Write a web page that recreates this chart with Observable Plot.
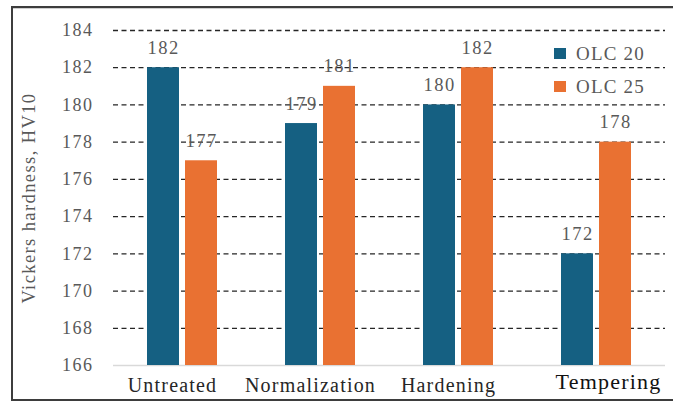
<!DOCTYPE html>
<html>
<head>
<meta charset="utf-8">
<script src="https://cdn.jsdelivr.net/npm/d3@7"></script>
<script src="https://cdn.jsdelivr.net/npm/@observablehq/plot@0.6"></script>
<style>
  html, body { margin: 0; padding: 0; background: #fff; }
  #wrap { position: relative; width: 673px; height: 401px; overflow: hidden; }
  #frame {
    position: absolute; left: 11px; top: 6px; width: 663px; height: 391px;
    border: 2px solid #3d3d3d; box-shadow: inset 0 1px 0 #cfcfcf;
  }
  #chart { position: absolute; left: 0; top: 0; }
  #chart svg text { font-family: 'Liberation Serif', serif !important; }
  .legend { position: absolute; left: 554px; font-family: 'Liberation Serif', serif;
    font-size: 19px; color: #595959; letter-spacing: 1.2px; }
  .legend .item { display: flex; align-items: center; height: 33px; }
  .legend .sw { width: 12px; height: 11px; margin-right: 10px; }
</style>
</head>
<body>
<div id="wrap">
  <div id="frame"></div>
  <div id="chart"></div>
  <div class="legend" id="legend" style="top:37px"></div>
</div>
<script>
// Heat treatment categories and the two steels
const categories = ["Untreated", "Normalization", "Hardening", "Tempering"];
const series = ["OLC 20", "OLC 25"];
const olc20 = [182, 179, 180, 172];
const olc25 = [177, 181, 182, 178];
const yTicks = [166, 168, 170, 172, 174, 176, 178, 180, 182, 184];
const yLabel = "Vickers hardness, HV10";
const yBase = 166;
const colors = ["#156082", "#E97132"];

// Long-format rows: one per bar
const rows = [];
categories.forEach((c, i) => {
  rows.push({category: c, steel: series[0], value: olc20[i]});
  rows.push({category: c, steel: series[1], value: olc25[i]});
});

const chart = Plot.plot({
  width: 673,
  height: 401,
  marginLeft: 112,
  marginRight: 8,
  marginTop: 30,
  marginBottom: 36,
  style: {background: "transparent", overflow: "visible"},
  facet: {data: rows, x: "category"},
  fx: {domain: categories, padding: 0, axis: "bottom", tickSize: 0, tickPadding: 12, label: null},
  x: {domain: series, axis: null, paddingInner: 0.17, paddingOuter: 0.9},
  y: {domain: [yTicks[0], yTicks[yTicks.length - 1]], ticks: yTicks, tickSize: 0, tickPadding: 20,
      label: yLabel, labelAnchor: "center", labelOffset: 92},
  color: {domain: series, range: colors},
  marks: [
    Plot.ruleY(yTicks.slice(1), {stroke: "#262626", strokeWidth: 1.3, strokeDasharray: "5,3.5"}),
    Plot.ruleY([yBase], {stroke: "#d9d9d9", strokeWidth: 1.5}),
    Plot.barY(rows, {x: "steel", y1: yBase, y2: "value", fill: "steel"}),
    Plot.text(rows, {x: "steel", y: "value", text: d => String(d.value), lineAnchor: "bottom", dy: -14,
      fill: "#595959", fontSize: 18.5})
  ]
});

// Axis text styling
const svg = d3.select(chart);
svg.selectAll("g[aria-label='y-axis tick label'] text, g[aria-label='y-axis'] text")
  .attr("font-size", 18).attr("fill", "#595959").attr("letter-spacing", 1.5);
svg.selectAll("g[aria-label='y-axis label'] text")
  .text(yLabel)
  .attr("font-size", 18.5).attr("fill", "#595959").attr("letter-spacing", 1.4);
svg.selectAll("g[aria-label='fx-axis tick label'] text, g[aria-label='fx-axis'] text")
  .attr("font-size", 20).attr("fill", "#262626").attr("letter-spacing", 1.2)
  .each(function() {
    const t = d3.select(this);
    if (t.text() === "Tempering") t.attr("font-size", 22).attr("fill", "#111").attr("dx", 12).attr("dy", -4);
    else t.attr("dx", -10);
  });
svg.selectAll("g[aria-label='text'] text").attr("letter-spacing", 1.5);

document.getElementById("chart").appendChild(chart);

// Legend drawn from the series and colour arrays
const legend = document.getElementById("legend");
series.forEach((s, i) => {
  const item = document.createElement("div");
  item.className = "item";
  const sw = document.createElement("span");
  sw.className = "sw";
  sw.style.background = colors[i];
  const label = document.createElement("span");
  label.textContent = s;
  item.appendChild(sw);
  item.appendChild(label);
  legend.appendChild(item);
});
</script>
</body>
</html>
